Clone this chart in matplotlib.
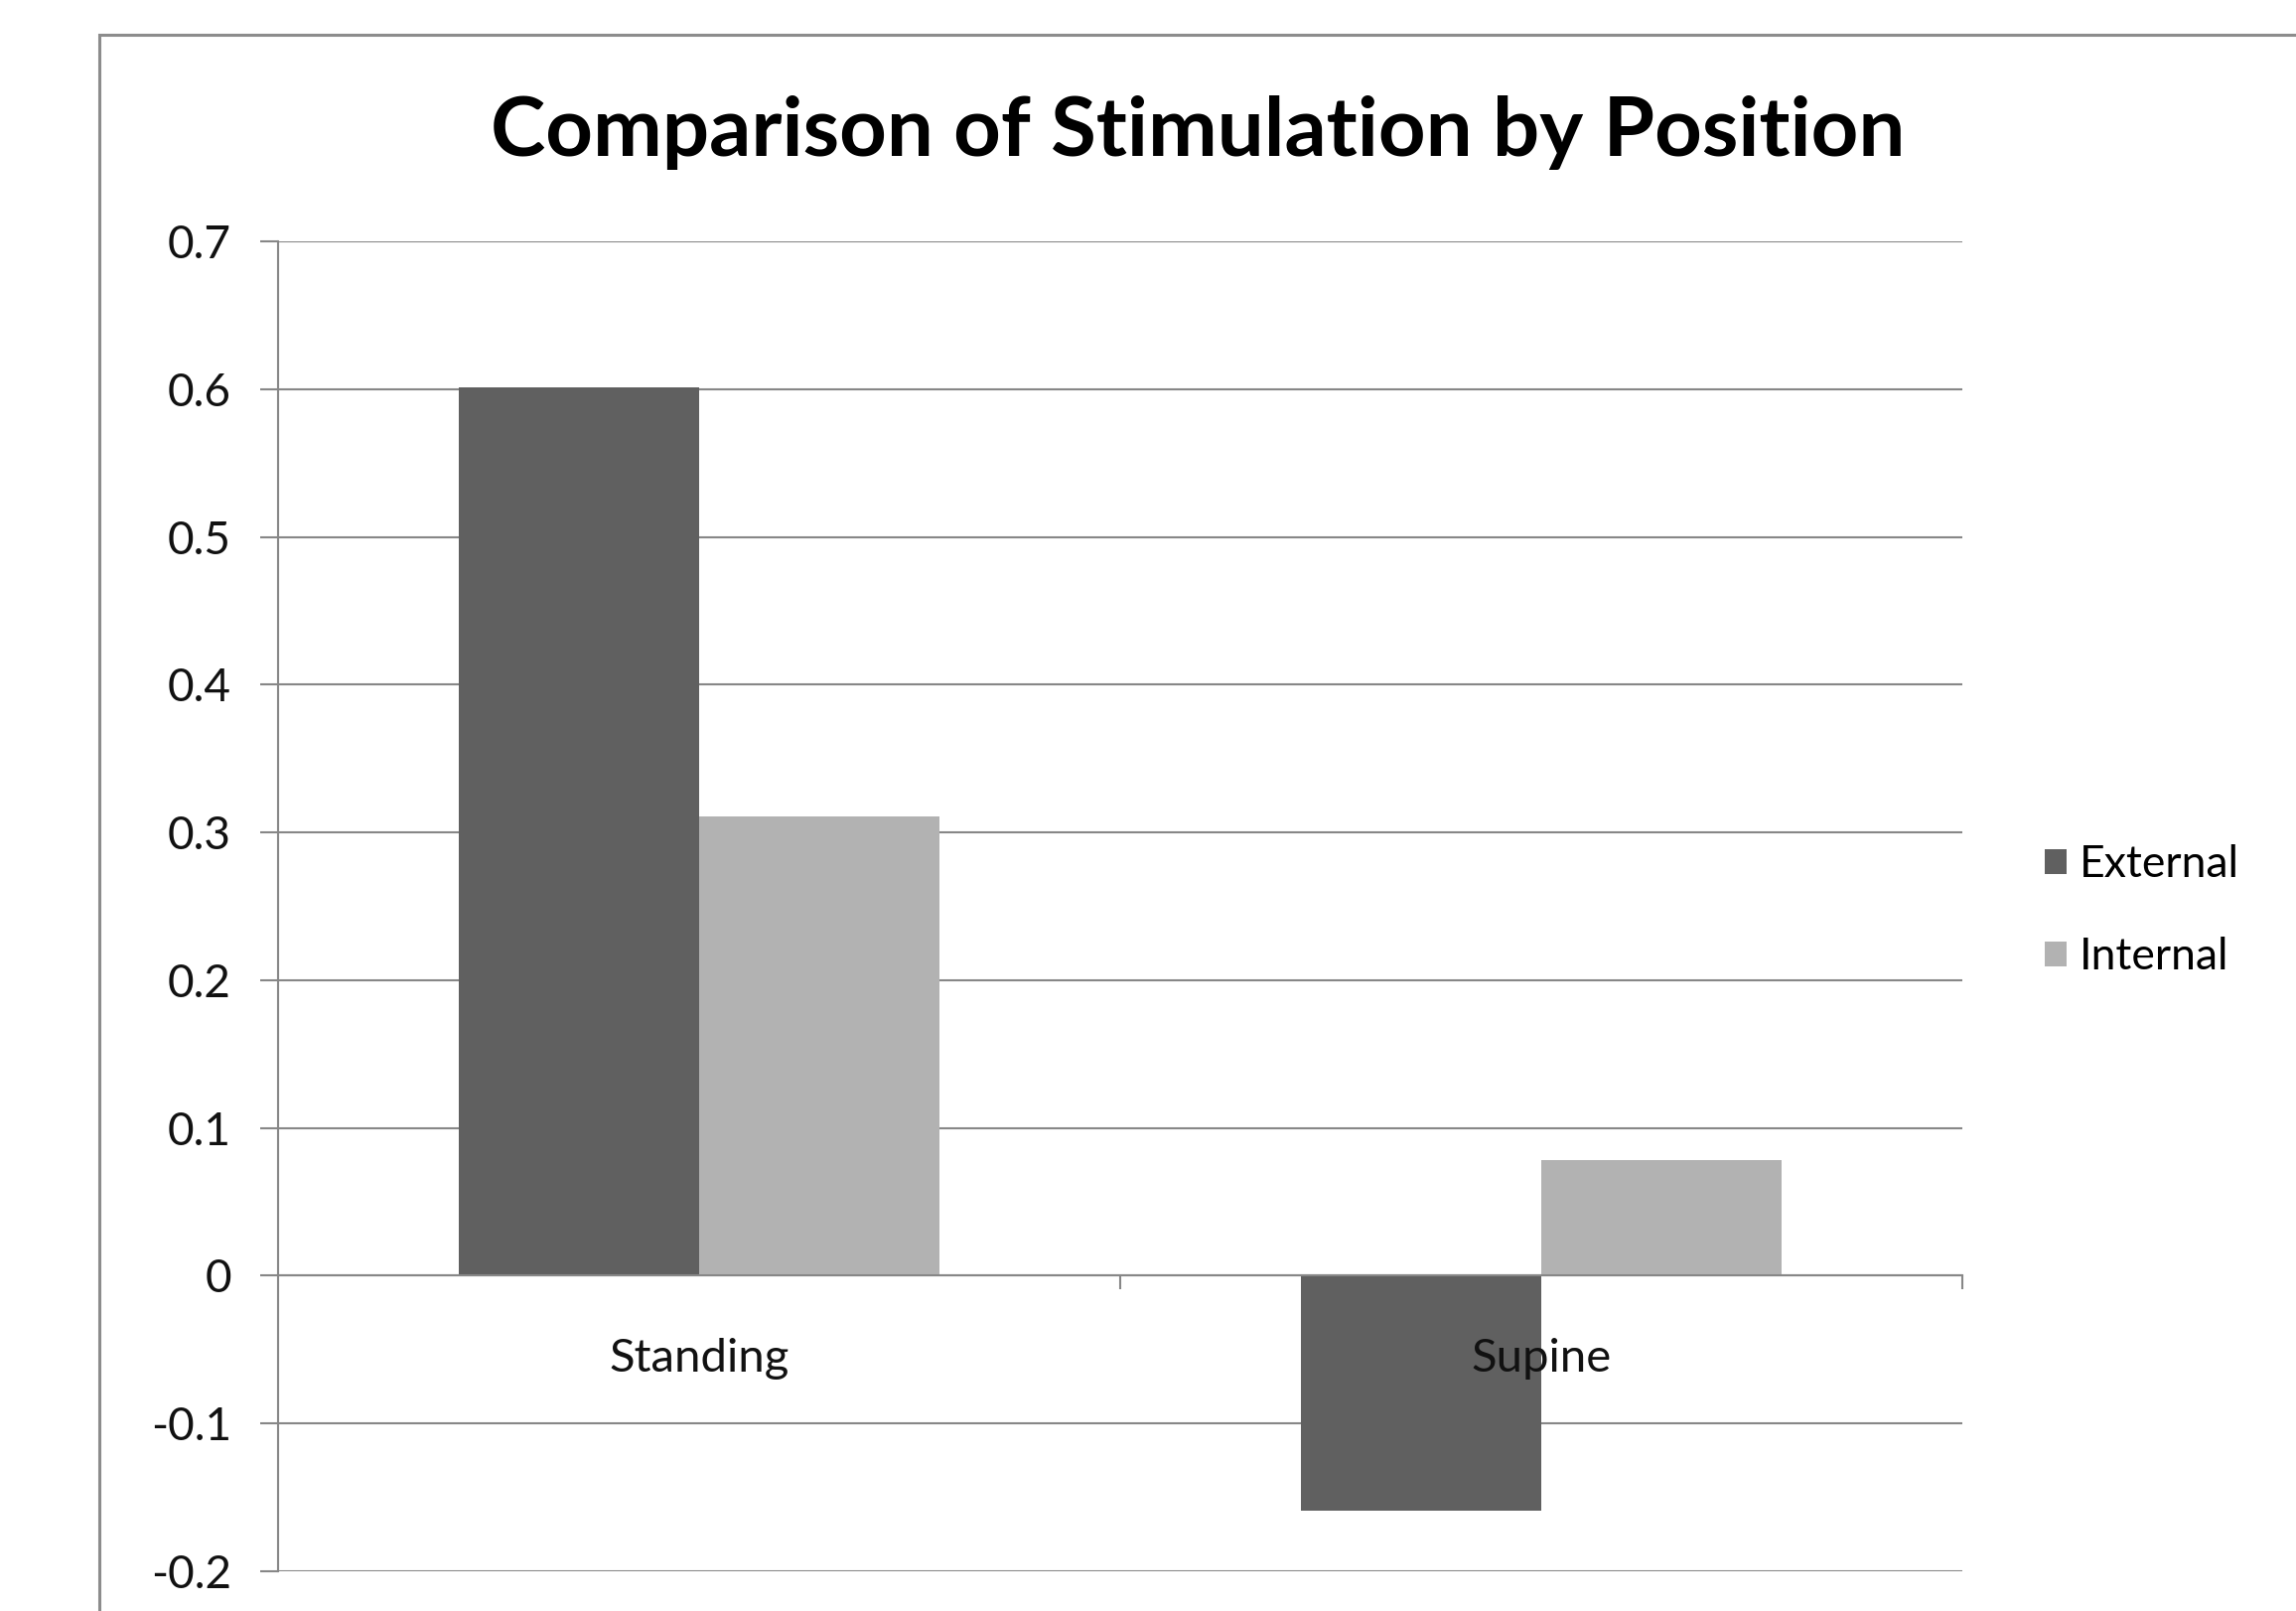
import matplotlib
matplotlib.use("Agg")
from matplotlib import pyplot as plt
from matplotlib.patches import Rectangle
from matplotlib.transforms import offset_copy
import numpy as np

# data
categories = ["Standing", "Supine"]
external = [0.601, -0.159]
internal = [0.311, 0.078]
series_names = ["External", "Internal"]
series_colors = ["#606060", "#b2b2b2"]
y_ticks = [-0.2, -0.1, 0, 0.1, 0.2, 0.3, 0.4, 0.5, 0.6, 0.7]
y_labels = ["-0.2", "-0.1", "0", "0.1", "0.2", "0.3", "0.4", "0.5", "0.6", "0.7"]

plt.rcParams['font.family'] = ['Lato', 'DejaVu Sans']
grid_col = "#878787"

fig = plt.figure(figsize=(23.12, 16.22), dpi=100)
ax = fig.add_axes([0.1211, 0.0247, 0.8547 - 0.1211, 0.8502 - 0.0247])

# outer chart frame (runs off the right and bottom edge)
fig.patches.append(Rectangle((0.0433, -0.2), 1.2, 0.9784 + 0.2, transform=fig.transFigure,
                             fill=False, edgecolor="#8c8c8c", linewidth=2.2, zorder=0))

x = np.arange(len(categories))
w = 0.285
ax.bar(x - w / 2, external, w, color=series_colors[0], label=series_names[0], zorder=3)
ax.bar(x + w / 2, internal, w, color=series_colors[1], label=series_names[1], zorder=3)

ax.set_xlim(-0.5, 1.5)
ax.set_ylim(-0.2, 0.7)
ax.set_yticks(y_ticks)
ax.set_yticklabels(y_labels)
for t in y_ticks:
    ax.axhline(t, color=grid_col, linewidth=1.5, zorder=1)

for s in ["top", "right"]:
    ax.spines[s].set_visible(False)
ax.spines["left"].set_color(grid_col)
ax.spines["left"].set_linewidth(1.5)
ax.spines["bottom"].set_position(("data", 0))
ax.spines["bottom"].set_color(grid_col)
ax.spines["bottom"].set_linewidth(1.5)
ax.spines["bottom"].set_zorder(4)

ax.tick_params(axis="y", direction="out", length=13, width=1.5, color=grid_col,
               labelsize=33, pad=21, labelcolor="#111111")
ax.set_xticks([0.5, 1.5])
ax.set_xticklabels(["", ""])
ax.tick_params(axis="x", direction="out", length=10, width=1.5, color=grid_col)

# category labels drawn above the bars
lbl_tr = offset_copy(ax.transData, fig=fig, x=0, y=-84, units="dots")
for xi, cat in zip(x, categories):
    ax.text(xi, 0, cat, transform=lbl_tr, ha="center", va="center", fontsize=34,
            color="#111111", zorder=6)

fig.text(0.5217, 0.918, "Comparison of Stimulation by Position", ha="center", va="center",
         fontsize=60, fontweight="bold", color="#000000")

fig.legend(loc="center left", bbox_to_anchor=(0.8828, 0.4345), frameon=False, fontsize=32,
           handlelength=0.5, handleheight=0.5, handletextpad=0.3, labelspacing=1.18,
           borderaxespad=0)

fig.savefig("out.png", dpi=100)
